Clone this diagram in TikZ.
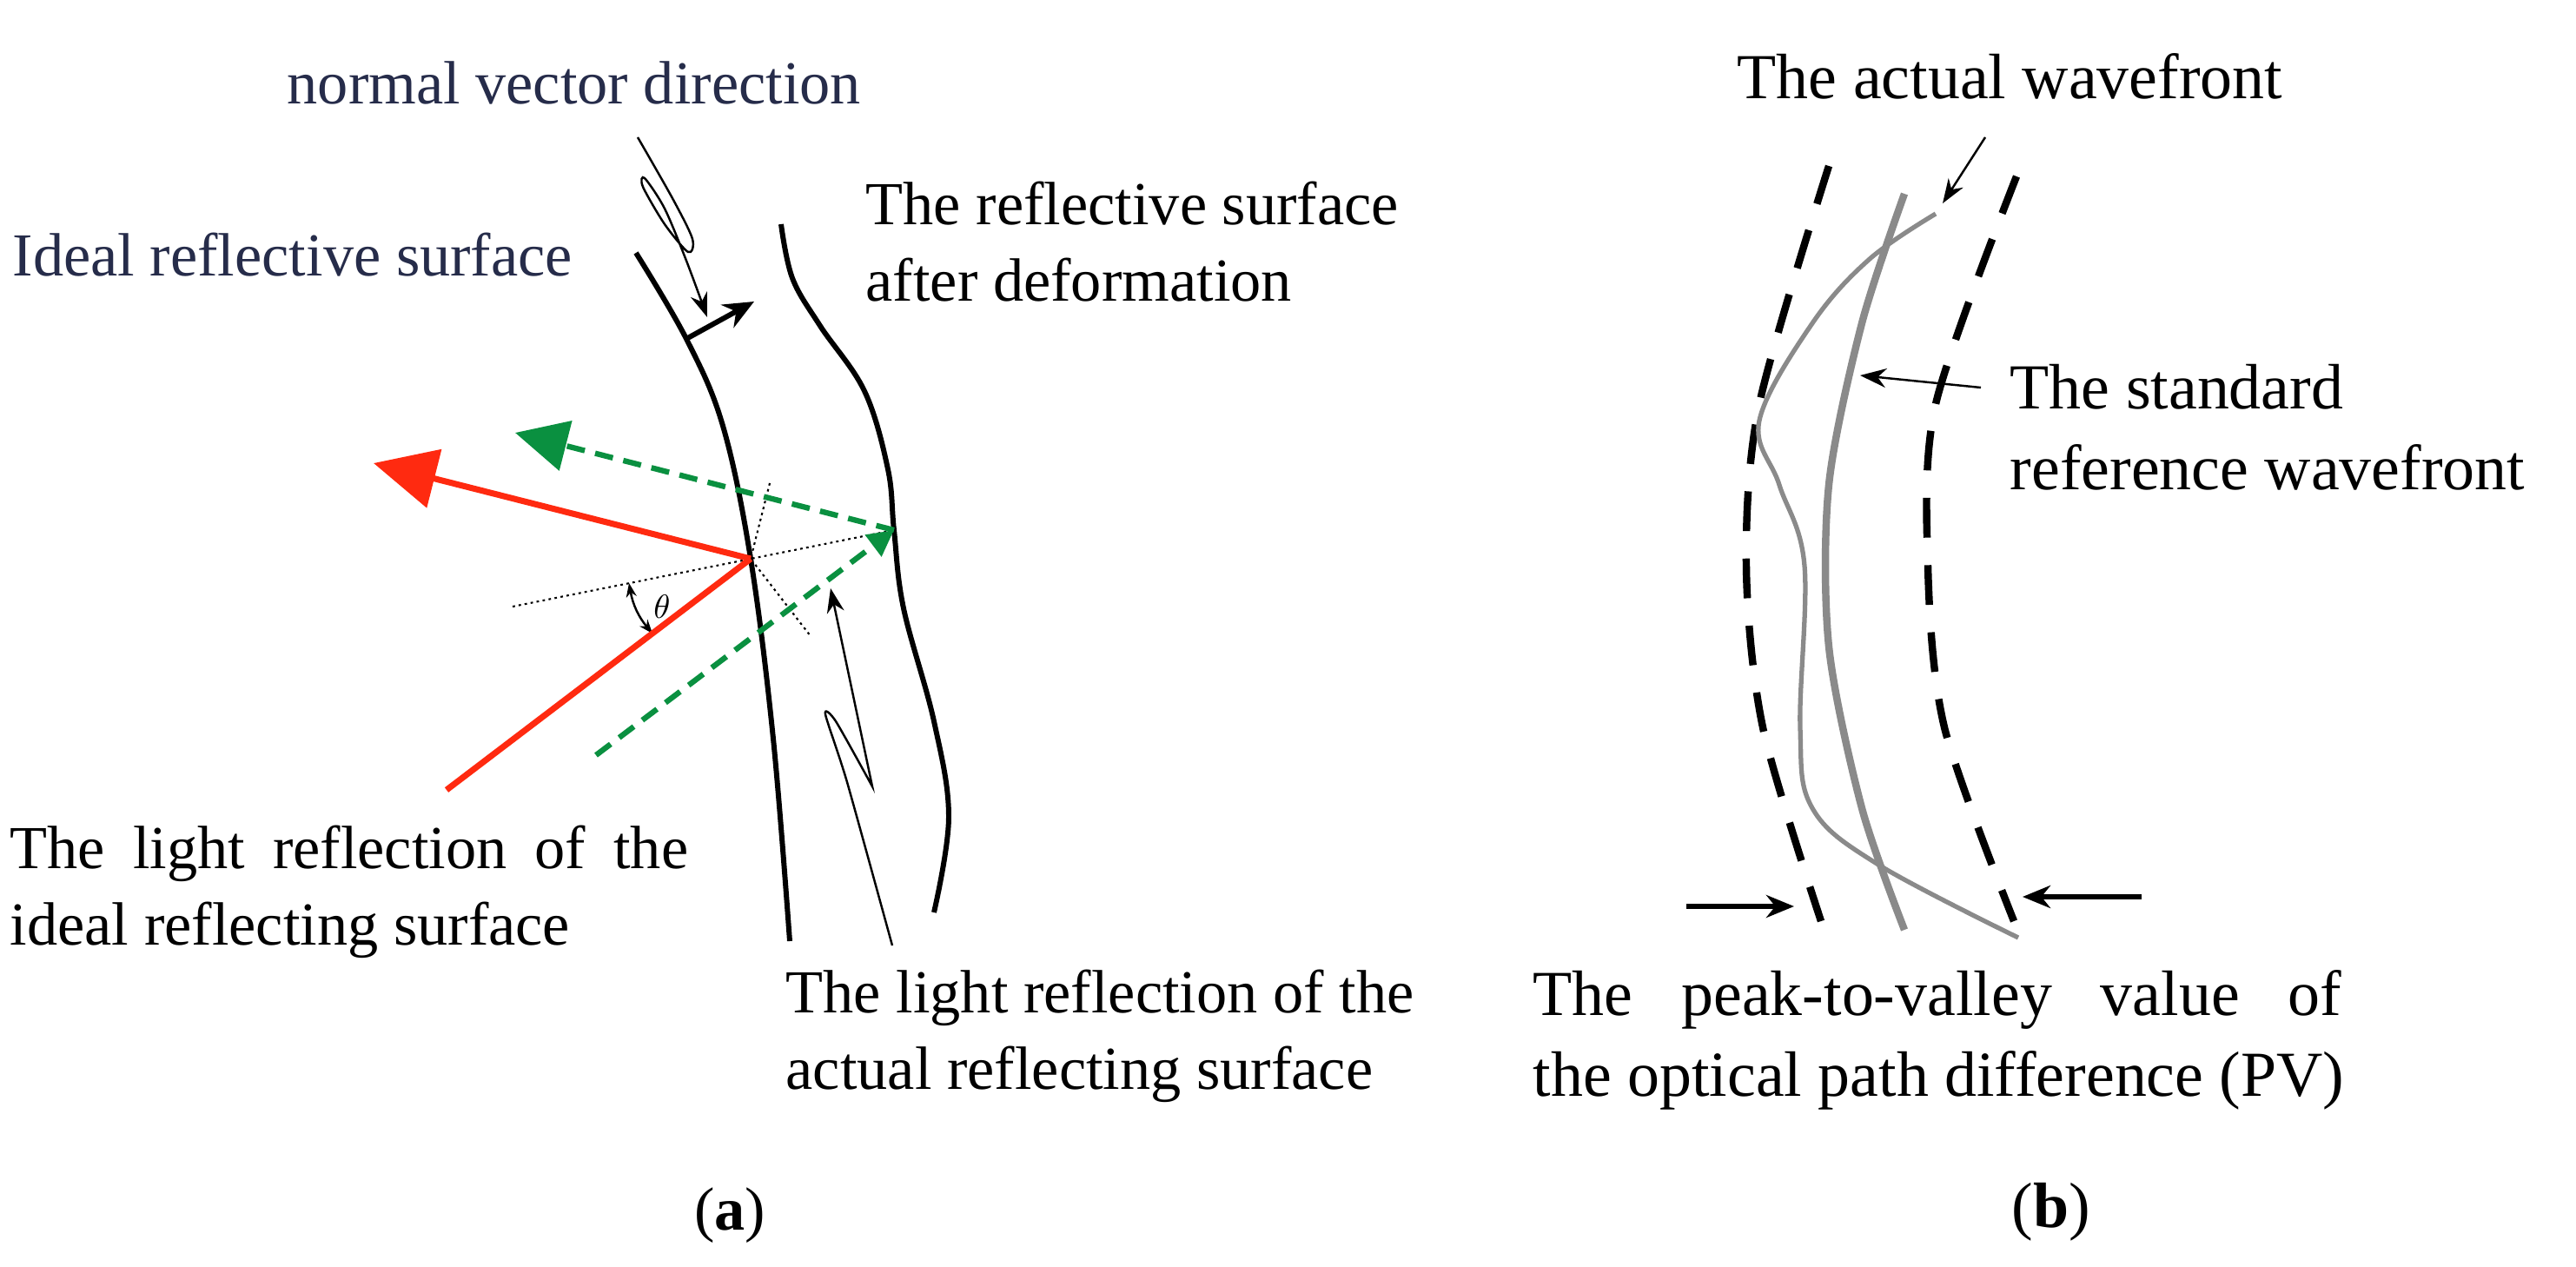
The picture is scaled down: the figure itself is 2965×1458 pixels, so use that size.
\documentclass[tikz,border=0pt]{standalone}
\usepackage{fontspec}
\setmainfont{Liberation Serif}
\usetikzlibrary{arrows.meta}
\definecolor{navy}{HTML}{262C4A}
\definecolor{rred}{HTML}{FF2A10}
\definecolor{ggreen}{HTML}{0A9040}
\definecolor{wgray}{HTML}{8A8A8A}
\begin{document}
\begin{tikzpicture}[x=0.01cm,y=-0.01cm,
  lab/.style={font=\fontsize{20}{25}\selectfont,inner sep=0pt},
  labb/.style={font=\fontsize{21}{26.5}\selectfont,inner sep=0pt},
  surf/.style={line width=1.7pt,black},
  thin/.style={line width=0.7pt,black},
  redray/.style={line width=2pt,rred},
  greenray/.style={line width=1.8pt,ggreen,dash pattern=on 6pt off 3.5pt},
  dotl/.style={line width=0.6pt,dash pattern=on 0.8pt off 1.2pt},
  bigtip/.style={-{Triangle[length=0.72cm,width=0.68cm]}},
  gtip/.style={-{Triangle[length=0.6cm,width=0.58cm]}},
  wdash/.style={line width=2.4pt,black,dash pattern=on 13pt off 9pt},
]
\useasboundingbox (0,0) rectangle (2965,1458);
% ---------- (a) ----------
\node[lab,text=navy,anchor=west] (nvd) at (330,95) {normal vector direction};
\node[lab,text=navy,anchor=west] (irs) at (14,293) {Ideal reflective surface};
\node[lab,anchor=west,align=left] (rsd) at (996,278) {The reflective surface\\after deformation};
\node[lab,anchor=west,align=left] (lri) at (11,1026) {\makebox[7.8cm][s]{The light reflection of the}\\ideal reflecting surface};
\node[lab,anchor=west,align=left] (lra) at (904,1192) {The light reflection of the\\actual reflecting surface};
\node[lab] (capa) at (840,1399) {(\textbf{a})};

\coordinate (V) at (864,643);
\coordinate (G) at (1029,610);
\coordinate (N0) at (788,391);
\coordinate (N1) at (868,347);
\coordinate (R1) at (430,533);
\coordinate (R0) at (514,909);
\coordinate (Gu) at (593,498);
\coordinate (Gl) at (686,869);
\coordinate (D0) at (590,698);
\coordinate (T0) at (886,556);
\coordinate (T1) at (933,732);

\draw[surf] plot[smooth,tension=0.6] coordinates {(732,291) (790,390) (832,490) (864,643) (890,850) (909,1083)};
\draw[surf] plot[smooth,tension=0.6] coordinates {(899,258) (912,320) (944,375) (995,450) (1022,540) (1029,610) (1040,700) (1075,830) (1092,940) (1075,1050)};
\draw[thin,-{Stealth[length=0.28cm,width=0.2cm]}] plot[smooth,tension=0.5] coordinates {(734,158) (775,230) (797,275) (792,290) (765,258) (740,215) (742,205) (765,240) (790,300) (814,365)};
\draw[line width=1.7pt,-{Stealth[length=0.35cm,width=0.3cm]}] (N0) -- (N1);
\draw[dotl] (D0) -- (G);
\draw[dotl] (T0) -- (V) -- (T1);
\draw[thin,<->,>={Stealth[length=0.16cm,width=0.12cm]}] (724,671) to[bend right=15] (751,729);
\node[font=\fontsize{11}{12}\selectfont,inner sep=0pt] (th) at (762,698) {$\theta$};
\draw[redray,bigtip] (V) -- (R1);
\draw[redray] (R0) -- (V);
\draw[greenray,gtip] (G) -- (Gu);
\draw[greenray,-{Triangle[length=0.3cm,width=0.3cm]}] (Gl) -- (G);
\draw[thin,-{Stealth[length=0.28cm,width=0.2cm]}] plot[smooth,tension=0.4] coordinates {(1027,1088) (975,900) (950,822) (962,830) (1004,905)} -- (956,677);

% ---------- (b) ----------
\node[labb,anchor=west] (awf) at (1999,88) {The actual wavefront};
\node[labb,anchor=west,align=left] (srw) at (2313,492) {The standard\\reference wavefront};
\node[labb,anchor=west,align=left] (pv) at (1764,1197) {\makebox[9.3cm][s]{The peak-to-valley value of}\\the optical path difference (PV)};
\node[labb] (capb) at (2361,1395) {(\textbf{b})};

\draw[wdash] plot[smooth] coordinates {(2105,191) (2025,465) (2010,651) (2029,837) (2096,1060)};
\draw[wdash] plot[smooth] coordinates {(2321,203) (2228,465) (2219,651) (2238,837) (2318,1060)};
\draw[wgray,line width=2.4pt] plot[smooth] coordinates {(2192,223) (2143,372) (2105,558) (2105,744) (2143,930) (2192,1070)};
\draw[wgray,line width=1.5pt] plot[smooth,tension=0.6] coordinates {(2228,246) (2152,298) (2086,372) (2025,484) (2048,558) (2077,651) (2072,837) (2086,930) (2162,995) (2323,1079)};
\coordinate (aw0) at (2285,158);
\coordinate (aw1) at (2236,234);
\draw[thin,-{Stealth[length=0.28cm,width=0.2cm]}] (aw0) -- (aw1);
\coordinate (sr0) at (2280,446);
\coordinate (sr1) at (2141,432);
\draw[thin,-{Stealth[length=0.3cm,width=0.22cm]}] (sr0) -- (sr1);
\coordinate (pl0) at (1941,1043);
\coordinate (pl1) at (2065,1043);
\coordinate (pr0) at (2465,1032);
\coordinate (pr1) at (2328,1032);
\draw[line width=1.6pt,-{Stealth[length=0.32cm,width=0.26cm]}] (pl0) -- (pl1);
\draw[line width=1.6pt,-{Stealth[length=0.32cm,width=0.26cm]}] (pr0) -- (pr1);
\end{tikzpicture}
\end{document}
